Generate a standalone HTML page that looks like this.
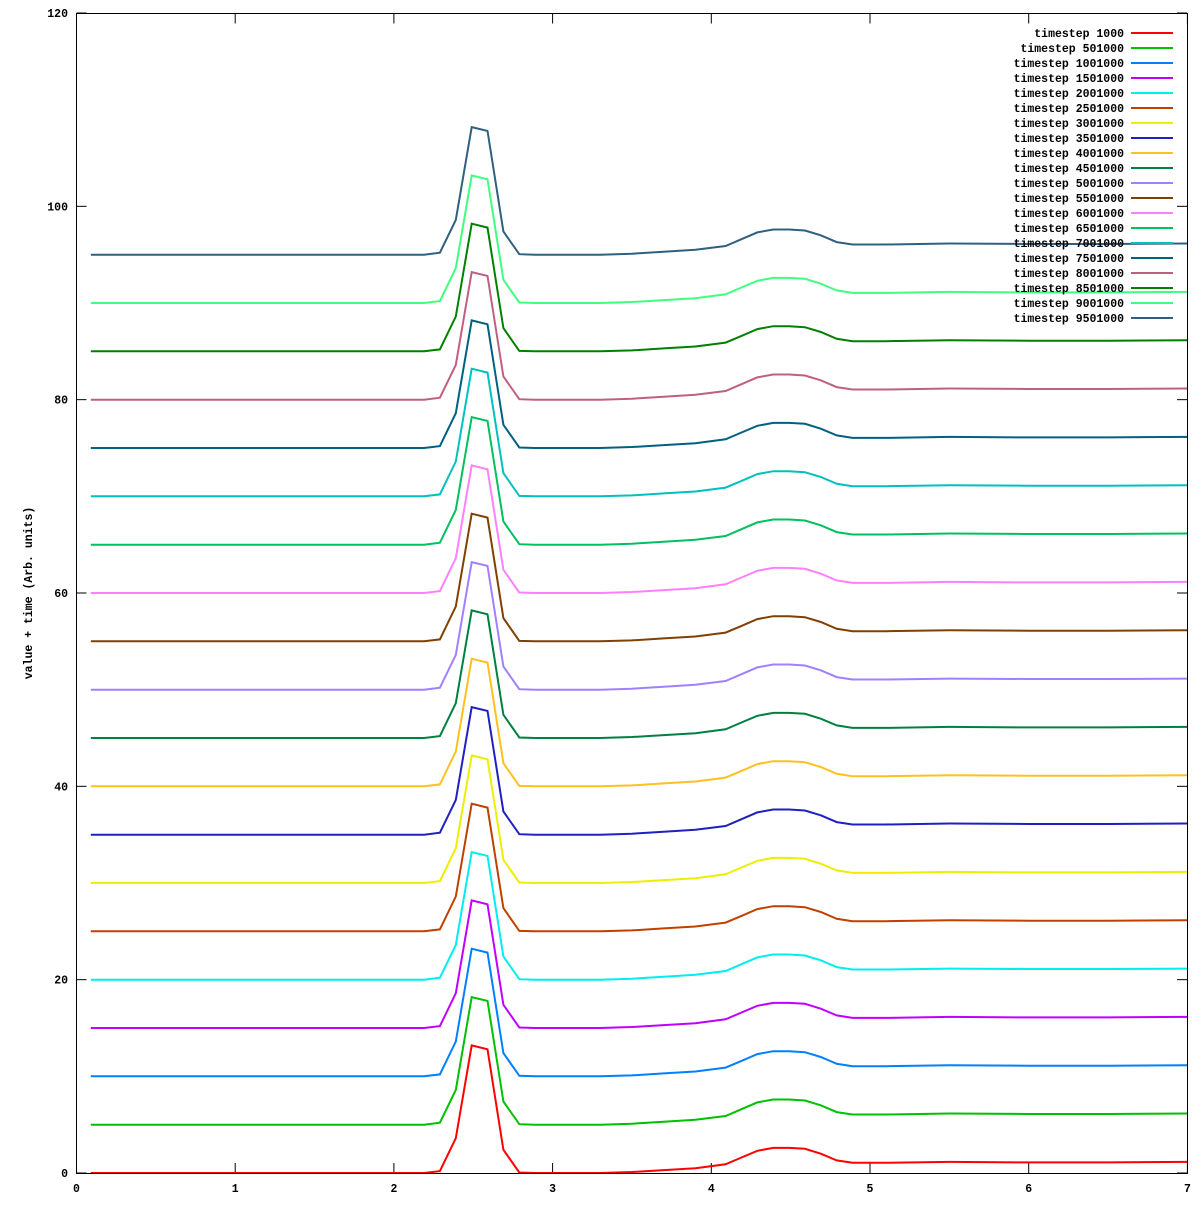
<!DOCTYPE html>
<html><head><meta charset="utf-8"><style>
html,body{margin:0;padding:0;background:#fff}
svg text{font-family:"Liberation Mono",monospace;font-weight:bold;font-size:11.5px;fill:#000}
</style></head><body>
<svg id="s" width="1200" height="1200" xmlns="http://www.w3.org/2000/svg">
<rect x="0" y="0" width="1200" height="1200" fill="#fff"/>
<g id="g"></g>
<rect x="76.5" y="13.5" width="1111" height="1160" fill="none" stroke="#000" stroke-width="1"/>
<text transform="translate(32,593) rotate(-90)" text-anchor="middle">value + time (Arb. units)</text>
</svg>
<script>
var X0=76.5,XS=158.7,Y0=1173,YS=1160/120;
function px(x){return X0+x*XS}function py(y){return Y0-y*YS}
var g=document.getElementById('g'),h='';
for(var i=0;i<=6;i++){var y=py(i*20);h+='<line x1="76.5" x2="86.5" y1="'+y+'" y2="'+y+'" stroke="#000"/><line x1="1177" x2="1187" y1="'+y+'" y2="'+y+'" stroke="#000"/><text x="68" y="'+(y+4)+'" text-anchor="end">'+(i*20)+'</text>';}
for(var i=0;i<=7;i++){var x=px(i);h+='<line x1="'+x+'" x2="'+x+'" y1="1173" y2="1163" stroke="#000"/><line x1="'+x+'" x2="'+x+'" y1="13.5" y2="23.5" stroke="#000"/><text x="'+x+'" y="1192" text-anchor="middle">'+i+'</text>';}
var P=[[0.09,0],[2.19,0],[2.29,0.2],[2.39,3.6],[2.49,13.2],[2.59,12.8],[2.69,2.4],[2.79,0.05],[2.89,0],[3.3,0],[3.5,0.1],[3.7,0.3],[3.9,0.5],[4.09,0.9],[4.19,1.6],[4.29,2.3],[4.39,2.6],[4.49,2.6],[4.59,2.5],[4.69,2.0],[4.79,1.3],[4.89,1.05],[5.1,1.05],[5.5,1.15],[6.0,1.1],[6.5,1.1],[7.0,1.15]];
var C=['#ff0000','#00c000','#0080ff','#c000ff','#00eeee','#c04000','#eeee00','#2020c0','#ffc020','#008040','#a080ff','#804000','#ff80ff','#00c060','#00c0c0','#006080','#c06080','#008000','#40ff80','#306080'];
for(var k=0;k<20;k++){var d='';P.forEach(function(p,j){d+=(j?'L':'M')+px(p[0]).toFixed(1)+' '+py(p[1]+5*k).toFixed(1)});
h+='<path d="'+d+'" fill="none" stroke="'+C[k]+'" stroke-width="2"/>';}
for(var k=0;k<20;k++){var y=33+15*k;var lbl='timestep '+(k*500000+1000);
h+='<text x="1124" y="'+(y+4)+'" text-anchor="end">'+lbl+'</text><line x1="1131" x2="1173" y1="'+y+'" y2="'+y+'" stroke="'+C[k]+'" stroke-width="2"/>';}
g.innerHTML=h;
</script>
</body></html>
